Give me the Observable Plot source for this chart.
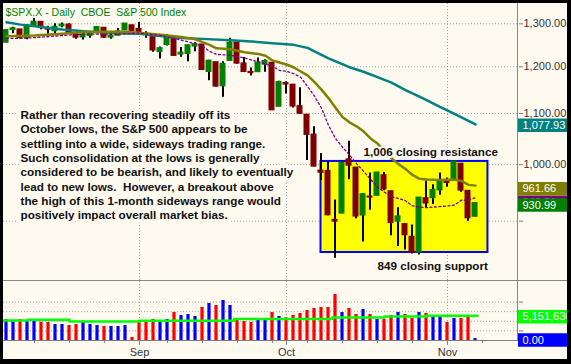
<!DOCTYPE html>
<html><head><meta charset="utf-8">
<script src="https://cdn.jsdelivr.net/npm/d3@7"></script>
<script src="https://cdn.jsdelivr.net/npm/@observablehq/plot@0.6"></script>
<style>
html,body{margin:0;padding:0;background:#000;}
#chart{position:relative;width:571px;height:364px;background:#000;overflow:hidden;}
#panel{position:absolute;left:3px;top:3px;width:564px;height:356px;background:#fffaf0;}
.layer{position:absolute;line-height:0;}
.layer svg{display:block;}
.sep{position:absolute;background:#888;}
.blk{position:absolute;background:#000;}
</style></head>
<body>
<div id="chart">
  <div id="panel"></div>
  <div class="sep" style="left:3px;top:280px;width:564px;height:1px"></div>
  <div class="sep" style="left:517px;top:3px;width:1px;height:338px"></div>
  <div id="price" class="layer" style="left:0;top:0"></div>
  <div id="vol" class="layer" style="left:0;top:281px"></div>
  <div id="ptags" class="layer" style="left:518px;top:0"></div>
  <div id="vtags" class="layer" style="left:518px;top:281px"></div>
  <div class="blk" style="left:0;top:0;width:571px;height:3px"></div>
  <div class="blk" style="left:0;top:0;width:3px;height:364px"></div>
  <div class="blk" style="left:567px;top:0;width:4px;height:364px"></div>
  <div class="blk" style="left:0;top:359px;width:571px;height:5px"></div>
</div>
<script>
// ---------- data ----------
const title = "$SPX.X - Daily  CBOE  S&P 500 Index";
const dates = ["2008-08-05","2008-08-06","2008-08-07","2008-08-08","2008-08-11","2008-08-12","2008-08-13","2008-08-14","2008-08-15","2008-08-18","2008-08-19","2008-08-20","2008-08-21","2008-08-22","2008-08-25","2008-08-26","2008-08-27","2008-08-28","2008-08-29",
"2008-09-02","2008-09-03","2008-09-04","2008-09-05","2008-09-08","2008-09-09","2008-09-10","2008-09-11","2008-09-12","2008-09-15","2008-09-16","2008-09-17","2008-09-18","2008-09-19","2008-09-22","2008-09-23","2008-09-24","2008-09-25","2008-09-26","2008-09-29","2008-09-30",
"2008-10-01","2008-10-02","2008-10-03","2008-10-06","2008-10-07","2008-10-08","2008-10-09","2008-10-10","2008-10-13","2008-10-14","2008-10-15","2008-10-16","2008-10-17","2008-10-20","2008-10-21","2008-10-22","2008-10-23","2008-10-24","2008-10-27","2008-10-28","2008-10-29","2008-10-30","2008-10-31",
"2008-11-03","2008-11-04","2008-11-05","2008-11-06","2008-11-07"];
const open = [1254.87,1284.88,1286.51,1266.29,1294.42,1304.79,1288.64,1282.11,1293.85,1298.14,1276.65,1267.34,1271.07,1277.59,1290.47,1267.03,1271.29,1283.79,1296.49,
1287.83,1276.61,1271.80,1233.21,1249.50,1267.98,1227.50,1229.04,1245.88,1250.92,1188.31,1210.34,1157.08,1213.11,1255.37,1207.61,1188.79,1187.87,1204.47,1209.07,1113.78,
1164.17,1160.64,1115.16,1097.56,1057.60,988.91,988.42,902.31,912.75,1009.97,994.60,909.53,942.29,943.51,980.40,951.67,899.08,895.22,874.28,848.92,939.51,939.38,953.11,
968.67,971.31,1001.84,952.40,907.44];
const high = [1284.88,1291.67,1286.51,1297.85,1313.15,1304.79,1294.03,1300.11,1302.05,1300.22,1276.65,1276.01,1281.40,1293.09,1290.47,1275.65,1288.50,1300.68,1296.49,
1303.04,1280.60,1271.80,1244.94,1274.42,1268.66,1243.90,1249.98,1255.09,1250.92,1214.84,1210.34,1211.14,1265.33,1255.37,1221.15,1197.41,1220.03,1215.77,1209.07,1168.03,
1167.03,1160.64,1153.82,1097.56,1072.91,1021.06,1005.25,936.36,1006.93,1044.31,994.60,947.71,984.64,985.40,985.44,951.67,922.83,896.30,893.78,940.51,969.97,963.23,984.38,
975.57,1007.51,1001.84,952.40,931.46];
const low = [1254.67,1276.00,1264.29,1262.11,1291.41,1285.64,1274.86,1276.84,1290.74,1274.51,1263.11,1261.16,1265.22,1277.59,1264.87,1263.21,1271.29,1283.79,1275.18,
1272.20,1265.59,1232.83,1217.23,1247.12,1224.51,1221.60,1211.54,1233.81,1192.70,1169.28,1155.88,1133.50,1213.11,1205.61,1187.06,1179.79,1187.87,1187.54,1106.39,1113.78,
1140.77,1111.43,1098.14,1007.97,996.23,970.97,909.19,839.80,912.75,972.07,903.99,865.83,918.74,943.51,952.47,875.81,858.44,852.85,846.75,845.27,922.26,928.50,944.59,
958.82,971.31,949.86,899.73,906.90];
const close = [1284.88,1289.19,1266.07,1296.32,1305.32,1289.59,1285.83,1292.93,1298.20,1278.60,1266.69,1274.54,1277.72,1292.20,1266.84,1271.51,1281.66,1300.68,1282.83,
1277.58,1274.98,1236.83,1242.31,1267.79,1224.51,1232.04,1249.05,1251.70,1192.70,1213.60,1156.39,1206.51,1255.08,1207.09,1188.22,1185.87,1209.18,1213.27,1106.39,1166.36,
1161.06,1114.28,1099.23,1056.89,996.23,984.94,909.92,899.22,1003.35,998.01,907.84,946.43,940.55,985.40,955.05,896.78,908.11,876.77,848.92,940.51,930.09,954.09,968.75,
966.30,1005.75,952.77,904.88,930.99];
const volume = [4380000,4170000,4380000,4030000,4030000,3820000,3750000,3330000,3330000,3130000,3330000,3820000,3330000,3130000,2920000,2920000,2920000,3130000,630000,
3960000,3960000,4380000,4170000,4380000,5830000,5210000,5420000,5000000,6880000,7710000,7290000,8330000,7290000,4170000,3960000,3750000,4380000,4380000,5830000,5000000,
4720000,5210000,5630000,6250000,6670000,6880000,6880000,9580000,5830000,6670000,5420000,6460000,5420000,4380000,4380000,5210000,5830000,5420000,4580000,5830000,5630000,5210000,5210000,
3750000,4580000,4580000,5000000,400000];
// moving averages (bar index -> value)
const tealAt  = [0,2,5,8,11,13,17,19,22,25,28,32,35,38,41,43,46,49,51,53,55,57,59,62,64,67];
const tealVal = [1304,1298,1292,1286,1282,1280,1277,1276,1271,1266,1264,1261,1258,1254,1250,1243,1219,1199,1189,1177,1165,1149,1135,1113,1099,1077.93];
const oliveAt  = [0,4,8,11,15,18,20,22,25,27,29,30,32,34,36,37,38,40,41,43,44,45,46,47,48,49,50,51,52,53,54,55,56,57,58,59,60,62,64,65,66,67];
const oliveVal = [1270,1272,1276,1280,1281,1280,1277,1274,1268.5,1263,1250,1242,1240,1233,1229,1225,1214,1205,1199,1181,1166,1150,1132,1112,1093,1082,1074,1064,1050,1040,1025,1012,1001,992,981,974,972.5,971.6,972.5,970,963,961.66];
const purpleAt  = [0,2,5,8,11,14,17,19,22,24,26,28,29,30,32,34,36,38,39,40,41,42,43,44,45,46,47,48,49,50,51,52,53,54,55,56,57,58,59,60,61,62,63,64,65,66,67];
const purpleVal = [1265,1265,1268,1272,1275,1275,1276,1277.5,1272,1265,1257,1247,1235,1228,1226,1220,1211,1201,1192,1190,1185,1177,1157,1136,1111,1076,1050,1033,1018,1002,988,973,959,950,942,939,935,926,924,923,924,925,926,927.5,936,936,940.31];
const volAvgAt  = [-0.43,3,9,19,32.5,46.5,54,60,67.3];
const volAvgVal = [4170000,4310000,3960000,4100000,4480000,4790000,5000000,5151636,5151636];
const volTagValues = [5151636, 0];
const volTagLabels = ["5,151,636", "0.00"];
const priceTicks = [900, 1000, 1100, 1200, 1300];
const volTicks = [2000000, 4000000, 6000000, 8000000];
const monthLabels = ["Sep", "Oct", "Nov"];
const levels = [1006, 849];
const noteLines = [
  "Rather than recovering steadily off its",
  "October lows, the S&P 500 appears to be",
  "settling into a wide, sideways trading range.",
  "Such consolidation at the lows is generally",
  "considered to be bearish, and likely to eventually",
  "lead to new lows.  However, a breakout above",
  "the high of this 1-month sideways range would",
  "positively impact overall market bias."
];

// ---------- derived ----------
const FONT = "Arial, 'Liberation Sans', Helvetica, sans-serif";
const BG = "#fffaf0";
const GRID = "#a0a0a0";
const fmt2 = d3.format(",.2f");
const fmt0 = d3.format(",");
const parsed = dates.map(d => new Date(d + "T00:00:00Z"));
const bars = dates.map((d, i) => ({
  i, o: open[i], h: high[i], l: low[i], c: close[i], v: volume[i],
  up: i === 0 ? true : close[i] >= close[i - 1]
}));
const monthIdx = [], weekIdx = [];
parsed.forEach((d, i) => {
  if (i === 0) return;
  if (d.getUTCMonth() !== parsed[i - 1].getUTCMonth()) monthIdx.push(i);
  if (d.getUTCDay() < parsed[i - 1].getUTCDay()) weekIdx.push(i);
});
weekIdx.push(dates.length); // start of the following week
const pts = (at, val) => at.map((i, k) => ({i, v: val[k]}));
const last = a => a[a.length - 1];

const X = {type: "linear", domain: [0, dates.length - 1], range: [6, 475], label: null};
const YP = {type: "log", domain: [900, 1300], range: [220.7, 23.3], label: null};
const YV = {type: "linear", domain: [0, 8000000], range: [59, 20.6], label: null};
const style = {background: "transparent", fontFamily: FONT, fontSize: "11px", color: "#333", overflow: "visible"};

const noteText = noteLines.join("\n");
const boldText = {fontFamily: FONT, fontWeight: "bold", fontSize: 11.7, textAnchor: "start"};

// ---------- price panel ----------
const price = Plot.plot({
  width: 571, height: 280,
  marginLeft: 3, marginRight: 53, marginTop: 3, marginBottom: 0,
  style,
  x: {...X, axis: null},
  y: YP,
  marks: [
    Plot.gridY(priceTicks, {stroke: GRID, strokeOpacity: 1, strokeDasharray: "1,2"}),
    Plot.gridX(monthIdx, {stroke: GRID, strokeOpacity: 1, strokeDasharray: "1,2"}),
    Plot.rect([{top: levels[0], bottom: levels[1]}], {x1: 45, x2: 68.85, y1: "top", y2: "bottom", dx: -0.5, fill: "#ffff00", stroke: "#0000ff", strokeWidth: 2}),
    Plot.ruleX(bars, {x: "i", y1: "l", y2: "h", dx: -0.5, stroke: "#000", strokeWidth: 2}),
    Plot.rect(bars, {x1: d => d.i - 3 / 7, x2: d => d.i + 3 / 7, y1: "o", y2: "c", dx: -0.5,
      fill: d => d.c > d.o ? "#008000" : "#800000", insetTop: -0.5, insetBottom: -0.5}),
    Plot.line(pts(tealAt, tealVal), {x: "i", y: "v", stroke: "#008080", strokeWidth: 2.5}),
    Plot.line(pts(oliveAt, oliveVal), {x: "i", y: "v", stroke: "#808000", strokeWidth: 2.5}),
    Plot.line(pts(purpleAt, purpleVal), {x: "i", y: "v", stroke: "#800080", strokeWidth: 1.3, strokeDasharray: "2,2.5"}),
    Plot.axisY(priceTicks, {anchor: "right", tickSize: 4, tickPadding: 1, tickFormat: fmt2, label: null, stroke: "#808080", fill: "#333", fontSize: 11}),
    // annotation block (halo, then text)
    Plot.text([noteText], {x: 2, y: 902.9, text: d => d, lineAnchor: "bottom", lineHeight: 1.225, ...boldText, fill: BG, stroke: BG, strokeWidth: 7, strokeLinejoin: "round"}),
    Plot.text([noteText], {x: 2, y: 902.9, text: d => d, lineAnchor: "bottom", lineHeight: 1.225, ...boldText, fill: "#111"}),
    Plot.text([levels[0]], {x: 51, y: d => d, dy: -5.4, text: d => `${fmt0(d)} closing resistance`, lineAnchor: "bottom", ...boldText, fill: BG, stroke: BG, strokeWidth: 4, strokeLinejoin: "round"}),
    Plot.text([levels[0]], {x: 51, y: d => d, dy: -5.4, text: d => `${fmt0(d)} closing resistance`, lineAnchor: "bottom", ...boldText, fill: "#111"}),
    Plot.text([levels[1]], {x: 53, y: d => d, dy: 17, text: d => `${fmt0(d)} closing support`, lineAnchor: "bottom", ...boldText, fill: BG, stroke: BG, strokeWidth: 4, strokeLinejoin: "round"}),
    Plot.text([levels[1]], {x: 53, y: d => d, dy: 17, text: d => `${fmt0(d)} closing support`, lineAnchor: "bottom", ...boldText, fill: "#111"}),
    Plot.text([title], {frameAnchor: "top-left", text: d => d, dx: 2, dy: 5, lineAnchor: "top", textAnchor: "start", fill: "#008000", fontFamily: FONT, fontSize: 10.5})
  ]
});
document.getElementById("price").appendChild(price);

// ---------- volume panel ----------
const vol = Plot.plot({
  width: 571, height: 83,
  marginLeft: 3, marginRight: 53, marginTop: 0, marginBottom: 24,
  style,
  x: X,
  y: YV,
  marks: [
    Plot.gridY(volTicks, {stroke: GRID, strokeOpacity: 1, strokeDasharray: "1,2"}),
    Plot.gridX(monthIdx, {stroke: GRID, strokeOpacity: 1, strokeDasharray: "1,2"}),
    Plot.rect(bars, {x1: d => d.i - 1.6 / 7, x2: d => d.i + 1.6 / 7, y1: 0, y2: "v",
      fill: d => d.up ? "#0000ff" : "#ff0000"}),
    Plot.line(pts(volAvgAt, volAvgVal), {x: "i", y: "v", stroke: "#00ff00", strokeWidth: 2.5, curve: "step-after"}),
    Plot.ruleY([0], {stroke: "#808080"}),
    Plot.axisX(weekIdx, {anchor: "bottom", tickSize: 3, tickFormat: () => "", label: null, stroke: "#808080"}),
    Plot.axisX(monthIdx, {anchor: "bottom", tickSize: 5, tickPadding: 3, label: null, stroke: "#808080", fill: "#333", fontSize: 11,
      tickFormat: i => monthLabels[monthIdx.indexOf(i)]}),
    Plot.axisY(volTicks, {anchor: "right", tickSize: 4, tickFormat: () => "", label: null, stroke: "#808080"})
  ]
});
document.getElementById("vol").appendChild(vol);

// ---------- value tags on the right ----------
function tagPlot(height, yOpts, tags) {
  return Plot.plot({
    width: 53, height, margin: 0, style,
    y: {...yOpts, axis: null},
    marks: tags.flatMap(t => [
      Plot.ruleY([t.value], {stroke: t.color, strokeWidth: 13.5, dy: t.dy}),
      Plot.text([t.value], {y: d => d, text: () => t.label, frameAnchor: "left", dx: 4, dy: t.dy,
        fill: "#ffffff", textAnchor: "start", fontFamily: FONT, fontSize: 11})
    ])
  });
}
const priceTags = [
  {value: last(purpleVal), label: fmt2(last(purpleVal)), color: "#800080", dy: 4.5},
  {value: last(oliveVal), label: fmt2(last(oliveVal)), color: "#808000", dy: 3},
  {value: last(tealVal), label: fmt2(last(tealVal)), color: "#008080", dy: 1},
  {value: last(close), label: fmt2(last(close)), color: "#008000", dy: 2}
];
const volTags = [
  {value: volTagValues[0], label: volTagLabels[0], color: "#00ff00", dy: 1},
  {value: volTagValues[1], label: volTagLabels[1], color: "#0000ff", dy: -0.5}
];
document.getElementById("ptags").appendChild(tagPlot(280, YP, priceTags));
document.getElementById("vtags").appendChild(tagPlot(83, YV, volTags));
</script>
</body></html>
